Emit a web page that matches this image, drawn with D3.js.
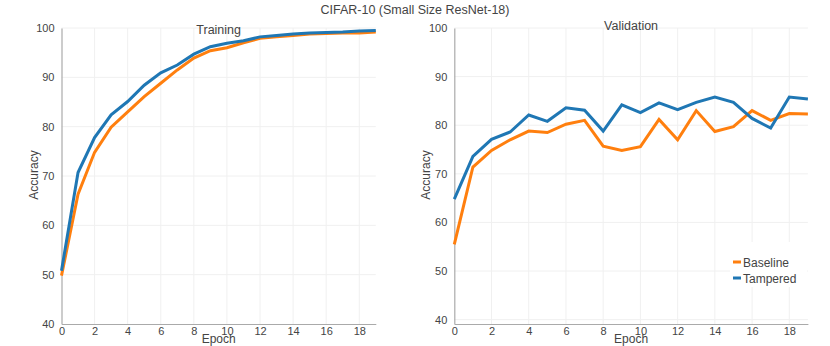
<!DOCTYPE html>
<html>
<head>
<meta charset="utf-8">
<script src="https://cdn.jsdelivr.net/npm/d3@7"></script>
<style>
  body { margin: 0; background: #fff; }
  text { font-family: "Liberation Sans", Arial, sans-serif; }
</style>
</head>
<body>
<script>
const epochs = d3.range(0, 20);

const trainBaseline = [49.8, 66.3, 74.8, 79.9, 83.0, 86.1, 88.8, 91.5, 93.9, 95.4,
                       96.0, 97.0, 97.9, 98.2, 98.5, 98.8, 98.9, 99.0, 99.0, 99.2];
const trainTampered = [50.8, 70.7, 77.8, 82.4, 85.1, 88.4, 90.9, 92.5, 94.7, 96.2,
                       96.9, 97.4, 98.2, 98.5, 98.8, 99.0, 99.1, 99.2, 99.4, 99.5];

const valBaseline = [55.5, 71.4, 74.8, 77.0, 78.8, 78.5, 80.2, 81.0, 75.7, 74.8,
                     75.6, 81.2, 77.0, 83.0, 78.7, 79.7, 83.0, 81.0, 82.4, 82.3];
const valTampered = [64.8, 73.6, 77.1, 78.6, 82.1, 80.8, 83.6, 83.1, 78.8, 84.2,
                     82.6, 84.6, 83.2, 84.7, 85.8, 84.7, 81.4, 79.4, 85.8, 85.4];

const xTicks = [0, 2, 4, 6, 8, 10, 12, 14, 16, 18];
const yTicks = [40, 50, 60, 70, 80, 90, 100];

const seriesNames = ['Baseline', 'Tampered'];
const colors = { Baseline: '#ff7f0e', Tampered: '#1f77b4' };

const width = 830, height = 346;

const svg = d3.select('body').append('svg')
    .attr('width', width)
    .attr('height', height);

svg.append('text')
    .attr('x', 415).attr('y', 14)
    .attr('text-anchor', 'middle')
    .attr('font-size', 12.5)
    .attr('fill', '#444')
    .text('CIFAR-10 (Small Size ResNet-18)');

function drawPanel(opts) {
    const x = d3.scaleLinear().domain([0, 19]).range([opts.left, opts.right]);
    const y = d3.scaleLinear().domain(opts.yDomain).range([opts.bottom, opts.top]);
    const g = svg.append('g');

    // grid
    g.append('g').selectAll('line.v')
        .data(xTicks.filter(d => d > 0))
        .enter().append('line')
        .attr('x1', d => x(d)).attr('x2', d => x(d))
        .attr('y1', opts.top).attr('y2', opts.bottom)
        .attr('stroke', '#f0f0f0').attr('stroke-width', 1);
    g.append('g').selectAll('line.h')
        .data(yTicks.filter(d => d > opts.yDomain[0]))
        .enter().append('line')
        .attr('x1', opts.left).attr('x2', opts.right)
        .attr('y1', d => y(d)).attr('y2', d => y(d))
        .attr('stroke', '#f0f0f0').attr('stroke-width', 1);

    // axes
    const xAxis = g.append('g')
        .attr('transform', `translate(0,${opts.bottom})`)
        .call(d3.axisBottom(x).tickValues(xTicks).tickSize(0).tickPadding(3));
    const yAxis = g.append('g')
        .attr('transform', `translate(${opts.left},0)`)
        .call(d3.axisLeft(y).tickValues(yTicks).tickSize(0).tickPadding(7));
    [xAxis, yAxis].forEach(a => {
        a.select('.domain').attr('stroke', '#aaa').attr('stroke-width', 1.2);
        a.selectAll('text').attr('fill', '#444').attr('font-size', 11)
            .attr('font-family', '"Liberation Sans", Arial, sans-serif');
    });

    // lines
    const line = d3.line().x((d, i) => x(epochs[i])).y(d => y(d));
    opts.series.forEach(s => {
        g.append('path')
            .datum(s.values)
            .attr('fill', 'none')
            .attr('stroke', colors[s.name])
            .attr('stroke-width', 3)
            .attr('stroke-linejoin', 'miter')
            .attr('d', line);
    });

    // labels
    g.append('text')
        .attr('x', (opts.left + opts.right) / 2).attr('y', opts.titleY)
        .attr('text-anchor', 'middle')
        .attr('font-size', 12.5).attr('fill', '#444')
        .text(opts.title);
    g.append('text')
        .attr('x', (opts.left + opts.right) / 2).attr('y', 343)
        .attr('text-anchor', 'middle')
        .attr('font-size', 12).attr('fill', '#444')
        .text('Epoch');
    g.append('text')
        .attr('transform', `translate(${opts.left - 24},175) rotate(-90)`)
        .attr('text-anchor', 'middle')
        .attr('font-size', 12).attr('fill', '#444')
        .text('Accuracy');

    return { x, y, g };
}

drawPanel({
    left: 61.5, right: 375.8, top: 28, bottom: 324,
    yDomain: [40, 100], title: 'Training', titleY: 34,
    series: [
        { name: 'Baseline', values: trainBaseline },
        { name: 'Tampered', values: trainTampered }
    ]
});

drawPanel({
    left: 454.3, right: 807.9, top: 28, bottom: 324,
    yDomain: [39.1, 100], title: 'Validation', titleY: 30,
    series: [
        { name: 'Baseline', values: valBaseline },
        { name: 'Tampered', values: valTampered }
    ]
});

// legend
const legend = svg.append('g').attr('transform', 'translate(730,242)');
legend.append('rect')
    .attr('width', 77).attr('height', 45)
    .attr('fill', '#fff');
seriesNames.forEach((name, i) => {
    const row = legend.append('g').attr('transform', `translate(3,${20 + i * 16})`);
    row.append('line')
        .attr('x1', 0).attr('x2', 8)
        .attr('y1', 0).attr('y2', 0)
        .attr('stroke', colors[name]).attr('stroke-width', 3);
    row.append('text')
        .attr('x', 10).attr('y', 4.5)
        .attr('font-size', 12).attr('fill', '#444')
        .text(name);
});
</script>
</body>
</html>
